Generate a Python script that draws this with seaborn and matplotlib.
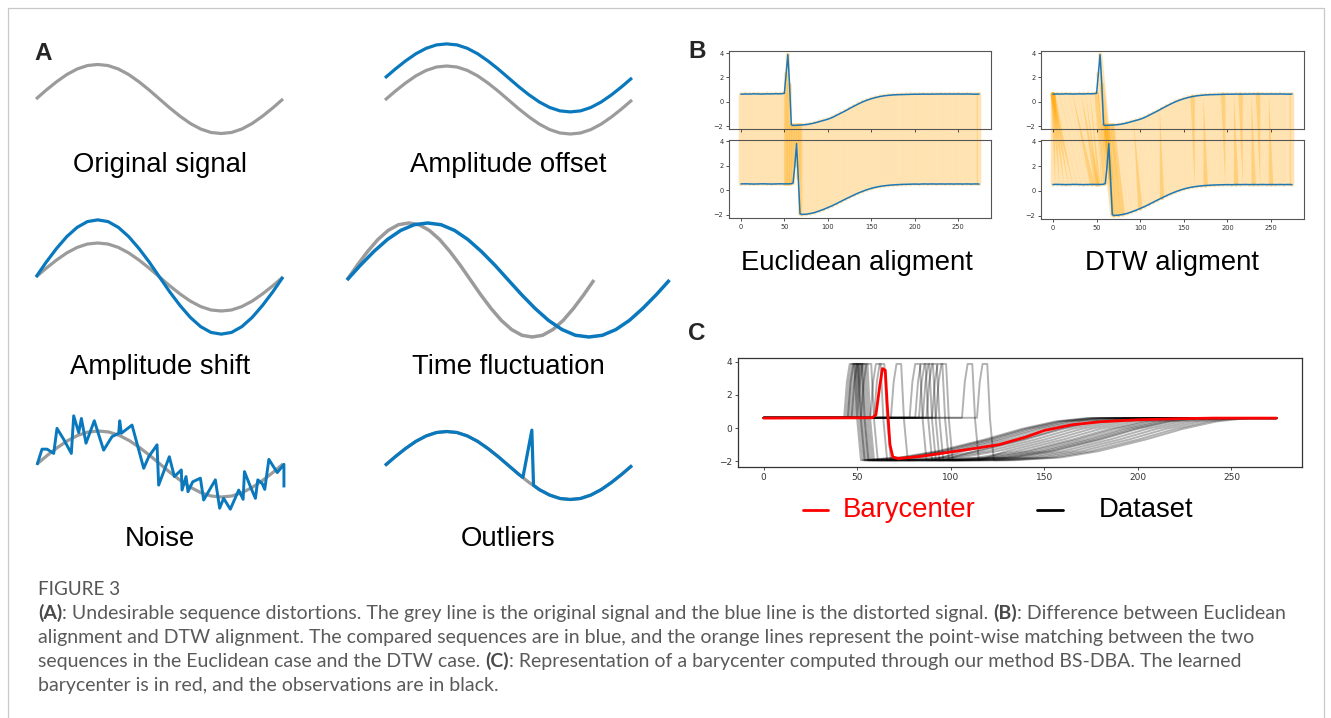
import matplotlib
matplotlib.use("Agg")
import pandas as pd
import matplotlib.pyplot as plt
import seaborn as sns
from matplotlib.patches import ConnectionPatch, Rectangle
from matplotlib.lines import Line2D

sns.set_style("ticks")
plt.rcParams["font.family"] = ["DejaVu Sans"]

W, H = 1331, 718
GREY = "#9b9b9b"
BLUE = "#0a78bd"
SERIES_BLUE = "#1f77b4"
LABEL_FONT = ["Liberation Sans", "DejaVu Sans"]
CAPTION_FONT = ["Lato", "DejaVu Sans"]

# ---------------- panel A: schematic distortions ----------------
wave_t = list(range(25))
wave = [0.0, 0.26, 0.5, 0.71, 0.87, 0.97, 1.0, 0.97, 0.87, 0.71, 0.5, 0.26, 0.0,
        -0.26, -0.5, -0.71, -0.87, -0.97, -1.0, -0.97, -0.87, -0.71, -0.5, -0.26, 0.0]
offset_wave = [0.65, 0.91, 1.15, 1.36, 1.52, 1.62, 1.65, 1.62, 1.52, 1.36, 1.15, 0.91, 0.65,
               0.39, 0.15, -0.06, -0.22, -0.32, -0.35, -0.32, -0.22, -0.06, 0.15, 0.39, 0.65]
shift_wave = [0.0, 0.44, 0.84, 1.19, 1.46, 1.63, 1.68, 1.63, 1.46, 1.19, 0.84, 0.44, 0.0,
              -0.44, -0.84, -1.19, -1.46, -1.63, -1.68, -1.63, -1.46, -1.19, -0.84, -0.44, 0.0]
stretched_t = [0, 1.31, 2.61, 3.92, 5.22, 6.53, 7.84, 9.14, 10.45, 11.75, 13.06, 14.37, 15.67,
               16.98, 18.28, 19.59, 20.9, 22.2, 23.51, 24.81, 26.12, 27.43, 28.73, 30.04, 31.34]
noise_t = [0.0, 0.49, 0.98, 1.63, 1.95, 2.6, 3.35, 3.58, 4.07, 4.33, 4.78, 5.59, 6.5, 7.32,
           7.97, 8.07, 8.23, 9.27, 10.41, 10.9, 11.71, 11.87, 12.91, 13.4, 14.08, 14.15, 14.54,
           14.73, 15.19, 15.94, 16.26, 17.4, 17.82, 18.21, 18.86, 19.68, 20.11, 20.24, 20.89,
           21.31, 21.54, 21.97, 22.22, 22.62, 23.44, 24.09, 24.09]
noise_v = [-0.03, 0.45, 0.45, 0.32, 1.08, 0.75, 0.32, 1.46, 0.95, 1.38, 0.63, 1.31, 0.42, 0.83,
           0.93, 1.31, 0.93, 1.18, -0.13, 0.22, 0.58, -0.64, 0.22, -0.38, -0.18, -0.79, -0.38,
           -0.84, -0.54, -0.43, -1.09, -0.48, -1.34, -1.04, -1.37, -0.79, -1.07, -0.23, -0.74,
           -1.04, -0.48, -0.59, -0.77, 0.14, -0.26, -0.01, -0.71]
outlier_t = [0, 1, 2, 3, 4, 5, 6, 7, 8, 9, 10, 11, 12, 13, 13.4, 14.27, 14.43,
             15, 16, 17, 18, 19, 20, 21, 22, 23, 24]
outlier_v = [0.0, 0.26, 0.5, 0.71, 0.87, 0.97, 1.0, 0.97, 0.87, 0.71, 0.5, 0.26, 0.0, -0.26,
             -0.35, 1.04, -0.58, -0.71, -0.87, -0.97, -1.0, -0.97, -0.87, -0.71, -0.5, -0.26, 0.0]

# ---------------- panel B: two sequences + matchings ----------------
grid_x = ([0, 5, 10, 15, 20, 25, 30, 35, 40, 45, 50]
          + [52, 54, 56, 58, 60, 62, 64, 66, 68, 70]
          + list(range(75, 271, 5)) + [274])
seq_a = [0.63, 0.65, 0.64, 0.66, 0.65, 0.64, 0.66, 0.65, 0.67, 0.66, 0.70,
         2.3, 3.88, 1.4, -1.88, -1.93, -1.92, -1.92, -1.9, -1.9, -1.89,
         -1.86, -1.8, -1.72, -1.62, -1.52, -1.42, -1.28, -1.1, -0.92, -0.74, -0.54, -0.35,
         -0.17, 0.0, 0.14, 0.26, 0.36, 0.44, 0.5, 0.54, 0.57, 0.59, 0.6, 0.61, 0.62, 0.63,
         0.63, 0.64, 0.63, 0.64, 0.64, 0.65, 0.64, 0.65, 0.64, 0.65, 0.64, 0.65, 0.64, 0.63, 0.64]
seq_b = [0.52, 0.53, 0.52, 0.51, 0.52, 0.53, 0.52, 0.51, 0.52, 0.53, 0.52,
         0.53, 0.52, 0.53, 0.54, 0.6, 2.0, 3.8, 1.0, -1.9, -1.96,
         -1.94, -1.88, -1.8, -1.68, -1.55, -1.4, -1.25, -1.08, -0.9, -0.72, -0.55, -0.38,
         -0.22, -0.08, 0.05, 0.16, 0.25, 0.32, 0.37, 0.41, 0.44, 0.46, 0.48, 0.49, 0.5, 0.51,
         0.5, 0.52, 0.51, 0.52, 0.51, 0.52, 0.51, 0.52, 0.51, 0.52, 0.51, 0.52, 0.51, 0.52, 0.51]
dtw_a_x = ([0, 0, 0, 0, 0, 0, 5, 10, 15, 20, 25, 30, 35, 40, 45, 50, 50, 52, 54, 56, 58, 60,
            62, 64, 66, 68, 70, 75, 80, 85, 90, 95, 100, 105, 110, 115, 120, 125, 130, 135,
            140, 145, 150]
           + [155, 160, 160, 165, 170, 175, 180, 185, 190, 195, 195, 200, 205, 210, 215, 215,
              220, 225, 230, 235, 235, 240, 245, 250, 255, 260, 265, 270, 274])
dtw_b_x = ([0, 5, 10, 15, 20, 25, 30, 35, 40, 45, 45, 50, 50, 52, 54, 58, 60, 62, 64, 66, 68,
            70, 70, 75, 75, 80, 80, 85, 90, 95, 100, 100, 105, 110, 115, 120, 125, 125, 130,
            135, 140, 145, 150]
           + [155, 160, 165, 170, 175, 175, 180, 185, 190, 195, 200, 205, 210, 210, 215, 220,
              225, 230, 230, 235, 240, 245, 250, 250, 255, 260, 265, 270, 274])

# ---------------- panel C: dataset and barycenter ----------------
onsets = [46, 47, 48, 48, 49, 50, 50, 51, 52, 53, 55, 60, 62, 71, 81, 84, 86, 88, 90, 93,
          95, 109, 117]
recovery_mid = [118, 165, 120, 178, 140, 122, 185, 150, 125, 172, 190, 128, 160, 145, 180,
                132, 175, 200, 138, 168, 195, 155, 204]
base_level = 0.62
spike_dx = [-3, -1.5, 0, 2.5, 4, 6]
spike_y = [0.62, 2.8, 3.88, 3.88, 0.5, -1.95]
recov_dx = [-70, -45, -25, 0, 20, 38, 55]
recov_y = [-1.95, -1.78, -1.4, -0.7, -0.05, 0.4, 0.6]
bary_x = [0, 58, 60, 62, 63.5, 65, 66, 67.5, 69, 72, 85, 100, 115, 126, 140, 150, 165, 180,
          200, 220, 240, 274]
bary_y = [0.6, 0.62, 0.8, 2.5, 3.6, 3.5, 1.5, -1.0, -1.75, -1.85, -1.7, -1.45, -1.2, -1.0,
          -0.55, -0.15, 0.2, 0.38, 0.5, 0.56, 0.6, 0.6]

rows = []
for k, (p, m) in enumerate(zip(onsets, recovery_mid)):
    xs = [0] + [p + d for d in spike_dx]
    ys = [base_level] + list(spike_y)
    for d, v in zip(recov_dx, recov_y):
        if p + 6 < m + d < 274:
            xs.append(m + d)
            ys.append(v)
    xs.append(274)
    ys.append(0.6)
    rows += [{"series": k, "x": a, "y": b} for a, b in zip(xs, ys)]
dataset = pd.DataFrame(rows)

fig = plt.figure(figsize=(W / 100, H / 100), dpi=100)


def px_axes(left, top, right, bottom):
    return fig.add_axes([left / W, 1 - bottom / H, (right - left) / W, (bottom - top) / H])


def sketch_axes(left, center, amp, width=247):
    ax = px_axes(left, center - amp, left + width, center + amp)
    ax.set_xlim(0, 24)
    ax.set_ylim(-1, 1)
    ax.axis("off")
    return ax


def curve(ax, t, v, color, lw=2.3):
    sns.lineplot(x=t, y=v, ax=ax, color=color, lw=lw, sort=False, estimator=None,
                 clip_on=False, solid_capstyle="butt")


def label(x, y, s, size=19.8, color="black", ha="center"):
    fig.text(x / W, 1 - y / H, s, fontsize=size, family=LABEL_FONT, color=color,
             ha=ha, va="baseline")


ax = sketch_axes(36, 99, 34.5)
curve(ax, wave_t, wave, GREY)
label(160, 171.5, "Original signal")

ax = sketch_axes(385, 100, 34)
curve(ax, wave_t, wave, GREY)
curve(ax, wave_t, offset_wave, BLUE)
label(508, 171.5, "Amplitude offset")

ax = sketch_axes(36, 277, 34)
curve(ax, wave_t, wave, GREY)
curve(ax, wave_t, shift_wave, BLUE)
label(160, 373.5, "Amplitude shift")

ax = sketch_axes(347, 280, 57)
curve(ax, wave_t, wave, GREY, lw=2.5)
curve(ax, stretched_t, wave, BLUE, lw=2.5)
label(508, 373.5, "Time fluctuation")

ax = sketch_axes(37, 464, 33, width=246)
curve(ax, wave_t, wave, GREY)
curve(ax, noise_t, noise_v, BLUE, lw=2.1)
label(160, 546.5, "Noise")

ax = sketch_axes(385, 465.5, 34)
curve(ax, wave_t, wave, GREY)
curve(ax, outlier_t, outlier_v, BLUE)
label(508, 546.5, "Outliers")

# ---------------- panel B ----------------
y_lookup_a = dict(zip(grid_x, seq_a))
y_lookup_b = dict(zip(grid_x, seq_b))


def style_small(ax, size):
    ax.set_facecolor("none")
    ax.set(xlabel="", ylabel="")
    ax.set_xticks([0, 50, 100, 150, 200, 250])
    ax.set_yticks([-2, 0, 2, 4])
    ax.tick_params(labelsize=size, length=2.5, width=0.6, pad=1.5, colors="#333333")
    for sp in ax.spines.values():
        sp.set_color("#555555")
        sp.set_linewidth(0.8)


def alignment_panel(left, right, top_box, bot_box, pairs_a, pairs_b):
    ax_top = px_axes(left, top_box[0], right, top_box[1])
    ax_bot = px_axes(left, bot_box[0], right, bot_box[1])
    for a, s in ((ax_top, seq_a), (ax_bot, seq_b)):
        sns.lineplot(x=grid_x, y=s, ax=a, color=SERIES_BLUE, lw=1.1, sort=False, estimator=None)
        style_small(a, 4.8)
    ax_top.tick_params(labelbottom=False)
    for xa, xb in zip(pairs_a, pairs_b):
        con = ConnectionPatch(xyA=(xa, y_lookup_a[xa]), coordsA=ax_top.transData,
                              xyB=(xb, y_lookup_b[xb]), coordsB=ax_bot.transData,
                              color="orange", lw=3.2, alpha=0.3, zorder=-1)
        fig.add_artist(con)
    return ax_top, ax_bot


alignment_panel(729, 991, (51, 129), (140, 218), grid_x, grid_x)
alignment_panel(1041, 1304, (51, 129), (140, 219), dtw_a_x, dtw_b_x)
label(857, 269.5, "Euclidean aligment")
label(1172, 269.5, "DTW aligment")

# ---------------- panel C ----------------
ax_c = px_axes(738, 358, 1302, 467)
sns.lineplot(data=dataset, x="x", y="y", units="series", estimator=None, sort=False,
             color="black", alpha=0.3, lw=1.4, ax=ax_c)
sns.lineplot(x=bary_x, y=bary_y, ax=ax_c, color="red", lw=2.0, sort=False, estimator=None)
style_small(ax_c, 6.5)
ax_c.set_ylim(-2.36, 4.24)
ax_c.set_xlim(-13.7, 287.7)
for sp in ax_c.spines.values():
    sp.set_color("#333333")
    sp.set_linewidth(0.9)

fig.add_artist(Line2D([803 / W, 828 / W], [1 - 510 / H] * 2, color="red", lw=2.0))
label(843, 517, "Barycenter", color="red", ha="left")
fig.add_artist(Line2D([1037 / W, 1063 / W], [1 - 510 / H] * 2, color="black", lw=2.0))
label(1099, 517, "Dataset", ha="left")

# panel letters
for s, x, y in (("A", 43, 53.5), ("B", 697, 52), ("C", 697, 333)):
    fig.text(x / W, 1 - y / H, s, fontsize=17.5, fontweight="bold", family=LABEL_FONT,
             ha="center", va="center")

# outer frame
fig.add_artist(Rectangle((8 / W, -0.1), (1324 - 8) / W, 1.1 - 8 / H, transform=fig.transFigure,
                         fill=False, edgecolor="#c8c8c8", lw=0.9))

# ---------------- caption ----------------
caption_lines = [
    [("(A)", True), (": Undesirable sequence distortions. The grey line is the original signal and the blue line is the distorted signal. ", False),
     ("(B)", True), (": Difference between Euclidean", False)],
    [("alignment and DTW alignment. The compared sequences are in blue, and the orange lines represent the point-wise matching between the two", False)],
    [("sequences in the Euclidean case and the DTW case. ", False), ("(C)", True),
     (": Representation of a barycenter computed through our method BS-DBA. The learned", False)],
    [("barycenter is in red, and the observations are in black.", False)],
]
renderer = fig.canvas.get_renderer()


def text_width(s, size, bold):
    t = fig.text(0, 0, s + "|", fontsize=size, fontweight="bold" if bold else "normal",
                 family=CAPTION_FONT)
    w1 = t.get_window_extent(renderer).width
    t.set_text("|")
    w2 = t.get_window_extent(renderer).width
    t.remove()
    return w1 - w2


line1 = sum(text_width(s, 12, b) for s, b in caption_lines[0])
cap_size = 12 * (1280 - 38) / line1
fig_size = 12 * (120 - 38) / text_width("FIGURE 3", 12, False)

fig.text(38 / W, 1 - 595 / H, "FIGURE 3", fontsize=fig_size, family=CAPTION_FONT,
         color="#555555", va="baseline")
for i, runs in enumerate(caption_lines):
    x = 38
    y = 619 + 24 * i
    for s, b in runs:
        fig.text(x / W, 1 - y / H, s, fontsize=cap_size, family=CAPTION_FONT,
                 fontweight="bold" if b else "normal",
                 color="#4a4a4a" if b else "#5a5a5a", va="baseline")
        x += text_width(s, cap_size, b)

fig.savefig("out.png", dpi=100, facecolor="white")
